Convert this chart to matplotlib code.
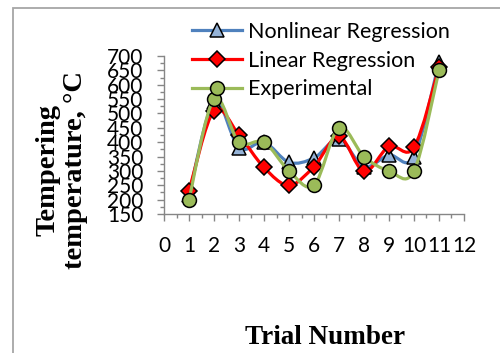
import numpy as np
import matplotlib.pyplot as plt
from matplotlib.path import Path
from matplotlib.patches import PathPatch, Rectangle
from matplotlib.lines import Line2D
from matplotlib.ticker import MultipleLocator

# trial data
trial = [1, 2, 3, 4, 5, 6, 7, 8, 9, 10, 11]
nonlinear = [215, 540, 380, 400, 330, 345, 410, 315, 355, 350, 680]
linear = [231, 510, 425, 312, 250, 315, 420, 298, 385, 382, 660]
experimental = [200, 550, 400, 400, 300, 250, 450, 350, 300, 300, 650]

x_ticks = list(range(0, 13))
y_ticks = list(range(150, 701, 50))


def smooth_path(x, y):
    # cubic bezier through every point (catmull-rom style, like a smoothed line)
    pts = np.column_stack([x, y]).astype(float)
    n = len(pts)
    verts = [pts[0]]
    codes = [Path.MOVETO]
    for i in range(n - 1):
        p0 = pts[i - 1] if i > 0 else pts[i]
        p1 = pts[i]
        p2 = pts[i + 1]
        p3 = pts[i + 2] if i + 2 < n else pts[i + 1]
        c1 = p1 + (p2 - p0) / 6.0
        c2 = p2 - (p3 - p1) / 6.0
        verts += [c1, c2, p2]
        codes += [Path.CURVE4] * 3
    return Path(verts, codes)


series = [
    ('Nonlinear Regression', nonlinear, '#4F81BD', '#95B3D7', '^', 10),
    ('Linear Regression', linear, '#FF0000', '#FF0000', 'D', 8.5),
    ('Experimental', experimental, '#9BBB59', '#9BBB59', 'o', 10),
]

fig = plt.figure(figsize=(5, 3.53), dpi=100)
ax = fig.add_axes([164 / 500, 1 - 214 / 353, 300 / 500, 158 / 353])

handles = []
for k, (name, vals, lc, fc, mk, ms) in enumerate(series):
    patch = PathPatch(smooth_path(trial, vals), fill=False, edgecolor=lc,
                      lw=2.3, capstyle='round', joinstyle='round', zorder=2 + k)
    ax.add_patch(patch)
    ax.plot(trial, vals, linestyle='none', marker=mk, markersize=ms,
            markerfacecolor=fc, markeredgecolor='black', markeredgewidth=1.1,
            zorder=2.5 + k, clip_on=False)
    handles.append(Line2D([], [], color=lc, lw=2.3, marker=mk, markersize=ms,
                          markerfacecolor=fc, markeredgecolor='black',
                          markeredgewidth=1.1))

ax.set_xlim(0, 12)
ax.set_ylim(150, 700)
ax.set_xticks(x_ticks)
ax.set_yticks(y_ticks)
ax.xaxis.set_minor_locator(MultipleLocator(0.5))
ax.yaxis.set_minor_locator(MultipleLocator(25))

for side in ['top', 'right']:
    ax.spines[side].set_visible(False)
for side in ['left', 'bottom']:
    ax.spines[side].set_color('#868686')
    ax.spines[side].set_linewidth(1.0)

ax.tick_params(which='major', length=5, width=1, color='#868686')
ax.tick_params(which='minor', length=3, width=1, color='#868686')
ax.tick_params(axis='x', which='major', pad=11)
ax.tick_params(axis='y', which='major', pad=10)
for lab in ax.get_xticklabels() + ax.get_yticklabels():
    lab.set_fontfamily('Lato')
    lab.set_fontsize(15)
    lab.set_color('black')

leg = ax.legend(handles, [s[0] for s in series], loc='upper left',
                bbox_to_anchor=(192 / 500, 1 - 22 / 353),
                bbox_transform=fig.transFigure, frameon=False,
                prop={'family': 'Lato', 'size': 15.5}, handlelength=2.3,
                handletextpad=0.3, labelspacing=0.4, borderpad=0,
                borderaxespad=0)
leg.set_zorder(10)

fig.text(62 / 500, 1 - 170 / 353, 'Tempering\ntemperature, \u00b0C', rotation=90,
         ha='center', va='center', multialignment='center',
         family='Liberation Serif', fontweight='bold', fontsize=20.5,
         linespacing=1.15)
fig.text(325 / 500, 1 - 338 / 353, 'Trial Number', ha='center', va='center',
         family='Liberation Serif', fontweight='bold', fontsize=19.5)

# outer chart frame
fig.patches.append(Rectangle((13 / 500, -0.1), 1.0, (353 - 8) / 353 + 0.1,
                             transform=fig.transFigure, fill=False,
                             edgecolor='#a6a6a6', lw=1.3))

fig.savefig('out.png', dpi=100)
